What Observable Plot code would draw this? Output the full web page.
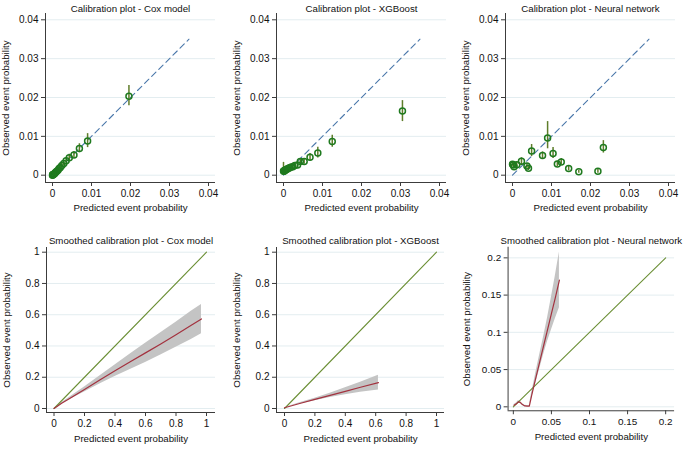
<!DOCTYPE html>
<html><head><meta charset="utf-8">
<script src="https://cdn.jsdelivr.net/npm/d3@7"></script>
<script src="https://cdn.jsdelivr.net/npm/@observablehq/plot@0.6"></script>
<style>
body{margin:0;background:#fff;}
#wrap{position:relative;width:684px;height:449px;overflow:hidden;background:#fff;}
#wrap > div{position:absolute;}
svg{font-family:"Liberation Sans",Arial,sans-serif;}
</style></head><body><div id="wrap"></div>
<script>
// ---------- Tick labels ----------
const ticksTop = [0, 0.01, 0.02, 0.03, 0.04];
const ticksSmooth = [0, 0.2, 0.4, 0.6, 0.8, 1];
const ticksSmoothNN = [0, 0.05, 0.1, 0.15, 0.2];

// ---------- Titles ----------
const titles = [
  "Calibration plot - Cox model",
  "Calibration plot - XGBoost",
  "Calibration plot - Neural network",
  "Smoothed calibration plot - Cox model",
  "Smoothed calibration plot - XGBoost",
  "Smoothed calibration plot - Neural network"
];
const xTitle = "Predicted event probability";
const yTitle = "Observed event probability";

// ---------- Binned calibration: Cox ----------
const coxX  = [0.0196, 0.0090, 0.0069, 0.0055, 0.0043, 0.0035, 0.0029, 0.0024, 0.0020, 0.0017, 0.0014, 0.0011, 0.0009, 0.0007, 0.0005, 0.0004, 0.0002, 0.0001, 0.00005, 0.0000];
const coxY  = [0.0203, 0.0088, 0.0069, 0.0052, 0.0045, 0.0037, 0.0030, 0.0025, 0.0020, 0.0017, 0.0013, 0.0010, 0.0008, 0.0006, 0.0004, 0.0003, 0.0002, 0.0001, 0.0001, 0.0000];
const coxLo = [0.0179, 0.0071, 0.0058, 0.0044, 0.0037, 0.0030, 0.0024, 0.0020, 0.0016, 0.0013, 0.0010, 0.0007, 0.0006, 0.0004, 0.0003, 0.0002, 0.0001, 0.0000, 0.0000, 0.0000];
const coxHi = [0.0231, 0.0107, 0.0081, 0.0061, 0.0054, 0.0045, 0.0037, 0.0031, 0.0025, 0.0021, 0.0017, 0.0013, 0.0011, 0.0008, 0.0006, 0.0004, 0.0003, 0.0002, 0.0002, 0.0001];

// ---------- Binned calibration: XGBoost ----------
const xgbX  = [0.0305, 0.0125, 0.0088, 0.0068, 0.0053, 0.0043, 0.0036, 0.0029, 0.0024, 0.0020, 0.0016, 0.0013, 0.0010, 0.0008, 0.0006, 0.0004, 0.0003, 0.0002, 0.0001, 0.0000];
const xgbY  = [0.0165, 0.0087, 0.0057, 0.0046, 0.0035, 0.0035, 0.0026, 0.0025, 0.0022, 0.0021, 0.0019, 0.0018, 0.0016, 0.0015, 0.0014, 0.0013, 0.0012, 0.0011, 0.0010, 0.0011];
const xgbLo = [0.0138, 0.0072, 0.0044, 0.0037, 0.0028, 0.0027, 0.0020, 0.0019, 0.0017, 0.0016, 0.0014, 0.0013, 0.0012, 0.0011, 0.0010, 0.0009, 0.0008, 0.0007, 0.0006, 0.0005];
const xgbHi = [0.0192, 0.0103, 0.0072, 0.0056, 0.0043, 0.0043, 0.0033, 0.0031, 0.0028, 0.0026, 0.0024, 0.0023, 0.0021, 0.0020, 0.0019, 0.0018, 0.0017, 0.0016, 0.0015, 0.0033];

// ---------- Binned calibration: Neural network ----------
const nnX  = [0.0000, 0.0002, 0.0004, 0.0011, 0.0023, 0.0037, 0.0041, 0.0049, 0.0077, 0.0090, 0.0104, 0.0115, 0.0125, 0.0144, 0.0170, 0.0219, 0.0233];
const nnY  = [0.0028, 0.0026, 0.0022, 0.0027, 0.0036, 0.0024, 0.0018, 0.0062, 0.0051, 0.0096, 0.0056, 0.0029, 0.0034, 0.0017, 0.0009, 0.0010, 0.0071];
const nnLo = [0.0023, 0.0021, 0.0017, 0.0021, 0.0025, 0.0018, 0.0012, 0.0048, 0.0042, 0.0068, 0.0043, 0.0022, 0.0026, 0.0011, 0.0005, 0.0005, 0.0057];
const nnHi = [0.0033, 0.0031, 0.0027, 0.0033, 0.0045, 0.0030, 0.0024, 0.0079, 0.0060, 0.0138, 0.0071, 0.0036, 0.0043, 0.0023, 0.0013, 0.0015, 0.0089];

// ---------- Reference (perfect calibration) line ends ----------
const diagTop = [0, 0.035];
const diagSmooth = [0, 1];
const diagSmoothNN = [0, 0.2];

// ---------- Smoothed calibration: Cox ----------
const coxSmX  = [0, 0.02, 0.05, 0.1, 0.2, 0.3, 0.4, 0.5, 0.6, 0.7, 0.8, 0.9, 0.967];
const coxSmY  = [0, 0.013, 0.033, 0.063, 0.122, 0.182, 0.241, 0.299, 0.356, 0.413, 0.472, 0.532, 0.573];
const coxSmLo = [0, 0.011, 0.029, 0.056, 0.106, 0.156, 0.204, 0.250, 0.295, 0.342, 0.392, 0.442, 0.478];
const coxSmHi = [0, 0.015, 0.037, 0.070, 0.138, 0.208, 0.278, 0.348, 0.418, 0.484, 0.552, 0.622, 0.665];

// ---------- Smoothed calibration: XGBoost ----------
const xgbSmX  = [0, 0.1, 0.2, 0.3, 0.4, 0.5, 0.618];
const xgbSmY  = [0.005, 0.032, 0.058, 0.084, 0.110, 0.136, 0.166];
const xgbSmLo = [0.005, 0.028, 0.050, 0.070, 0.088, 0.104, 0.118];
const xgbSmHi = [0.005, 0.036, 0.066, 0.098, 0.132, 0.168, 0.212];

// ---------- Smoothed calibration: Neural network ----------
const nnSmX  = [0.001, 0.004, 0.0065, 0.009, 0.012, 0.015, 0.018, 0.021, 0.024, 0.027, 0.030, 0.035, 0.040, 0.045, 0.050, 0.055, 0.0605];
const nnSmY  = [0.002, 0.004, 0.0066, 0.006, 0.003, 0.0012, 0.001, 0.001, 0.015, 0.028, 0.041, 0.062, 0.083, 0.104, 0.125, 0.146, 0.170];
const nnSmLo = [0.001, 0.003, 0.005, 0.0045, 0.0018, 0.0004, 0.0003, 0.0003, 0.011, 0.023, 0.034, 0.052, 0.071, 0.088, 0.103, 0.118, 0.133];
const nnSmHi = [0.003, 0.005, 0.008, 0.0075, 0.0042, 0.002, 0.0017, 0.0018, 0.019, 0.033, 0.048, 0.072, 0.095, 0.120, 0.147, 0.175, 0.208];

// ---------- Styles ----------
const C = {
  grid: "#e3edf0", axis: "#3c3c3c", text: "#111",
  marker: "#1f7a1f", spike: "#5f7d2a", dash: "#4a77aa",
  diag: "#6b8f35", smooth: "#a3323f", band: "#c4c4c4"
};
const FONT = 9.7, TICKFONT = 10;

const rowsOf = (xs, ys, los, his) => xs.map((x, i) => ({x, y: ys[i], lo: los[i], hi: his[i]}));
const diagRows = (d) => d.map(v => ({x: v, y: v}));
const fmt = d => String(Math.round(d * 1000) / 1000);

function padDomain(a, b, len, i0, i1) {
  const k = (len - i0 - i1) / (b - a);
  return [a - i0 / k, b + i1 / k];
}

function makePanel(p) {
  const fw = p.width - p.ml - p.mr, fh = p.height - p.mt - p.mb;
  const tx = p.ticksX, ty = p.ticksY;
  const xd = padDomain(tx[0], tx[tx.length - 1], fw, p.iL, p.iR);
  const yd = padDomain(ty[0], ty[ty.length - 1], fh, p.iB, p.iT);
  const svg = Plot.plot({
    width: p.width, height: p.height,
    marginLeft: p.ml, marginRight: p.mr, marginTop: p.mt, marginBottom: p.mb,
    x: {domain: xd}, y: {domain: yd},
    style: {fontFamily: '"Liberation Sans", Arial, sans-serif', fontSize: TICKFONT + "px", color: C.text, background: "white", overflow: "visible"},
    marks: [
      Plot.gridY(ty, {stroke: C.grid, strokeOpacity: 1, strokeWidth: 1}),
      ...p.marks,
      Plot.ruleX([xd[0]], {stroke: C.axis, strokeWidth: 1}),
      Plot.ruleY([yd[0]], {stroke: C.axis, strokeWidth: 1}),
      Plot.axisX(tx, {tickSize: 4, tickPadding: 3, tickFormat: fmt, fontSize: TICKFONT, label: null, stroke: C.axis, fill: C.text}),
      Plot.axisY(ty, {tickSize: 4, tickPadding: 3, tickFormat: fmt, fontSize: TICKFONT, label: null, stroke: C.axis, fill: C.text}),
      Plot.text([p.title], {text: d => d, frameAnchor: "top", textAnchor: "middle", dy: p.titleDy, fontSize: FONT, fill: C.text}),
      Plot.text([xTitle], {text: d => d, frameAnchor: "bottom", textAnchor: "middle", dy: p.xlabDy, fontSize: FONT, fill: C.text}),
      Plot.text([yTitle], {text: d => d, frameAnchor: "left", textAnchor: "middle", dx: p.ylabDx, rotate: -90, fontSize: FONT, fill: C.text})
    ]
  });
  const holder = document.createElement("div");
  holder.style.left = p.left + "px";
  holder.style.top = p.top + "px";
  holder.appendChild(svg);
  document.getElementById("wrap").appendChild(holder);
}

function topMarks(rows) {
  return [
    Plot.line(diagRows(diagTop), {x: "x", y: "y", stroke: C.dash, strokeWidth: 1.1, strokeDasharray: "6,4"}),
    Plot.ruleX(rows, {x: "x", y1: "lo", y2: "hi", stroke: C.spike, strokeWidth: 1.5}),
    Plot.dot(rows, {x: "x", y: "y", r: 3, stroke: C.marker, strokeWidth: 1.5, fill: "none"})
  ];
}
function smoothMarks(rows, diag) {
  return [
    Plot.areaY(rows, {x: "x", y1: "lo", y2: "hi", fill: C.band, fillOpacity: 1}),
    Plot.line(diagRows(diag), {x: "x", y: "y", stroke: C.diag, strokeWidth: 1.1}),
    Plot.line(rows, {x: "x", y: "y", stroke: C.smooth, strokeWidth: 1.2})
  ];
}

const topCommon = {top: 0, width: 224, height: 220, ml: 45, mr: 9, mt: 13, mb: 38, iL: 7, iR: 7, iT: 6.3, iB: 7.3, titleDy: -8, xlabDy: 28, ylabDx: -40, ticksX: ticksTop, ticksY: ticksTop};
makePanel({...topCommon, left: 0, title: titles[0], marks: topMarks(rowsOf(coxX, coxY, coxLo, coxHi))});
makePanel({...topCommon, left: 231, title: titles[1], marks: topMarks(rowsOf(xgbX, xgbY, xgbLo, xgbHi))});
makePanel({...topCommon, left: 460, title: titles[2], marks: topMarks(rowsOf(nnX, nnY, nnLo, nnHi))});

const botCommon = {top: 220, width: 224, height: 229, ml: 46, mr: 10, mt: 27, mb: 37, iT: 4.7, iB: 4, titleDy: -10, xlabDy: 29, ylabDx: -40};
makePanel({...botCommon, left: 0, mr: 9, iL: 7.5, iR: 9, ticksX: ticksSmooth, ticksY: ticksSmooth, title: titles[3], marks: smoothMarks(rowsOf(coxSmX, coxSmY, coxSmLo, coxSmHi), diagSmooth)});
makePanel({...botCommon, left: 230, iL: 8, iR: 8, ticksX: ticksSmooth, ticksY: ticksSmooth, title: titles[4], marks: smoothMarks(rowsOf(xgbSmX, xgbSmY, xgbSmLo, xgbSmHi), diagSmooth)});
makePanel({...botCommon, left: 462, iL: 5.3, iR: 9, iT: 10.7, ylabDx: -42, ticksX: ticksSmoothNN, ticksY: ticksSmoothNN, title: titles[5], marks: smoothMarks(rowsOf(nnSmX, nnSmY, nnSmLo, nnSmHi), diagSmoothNN)});
</script>
</body></html>
